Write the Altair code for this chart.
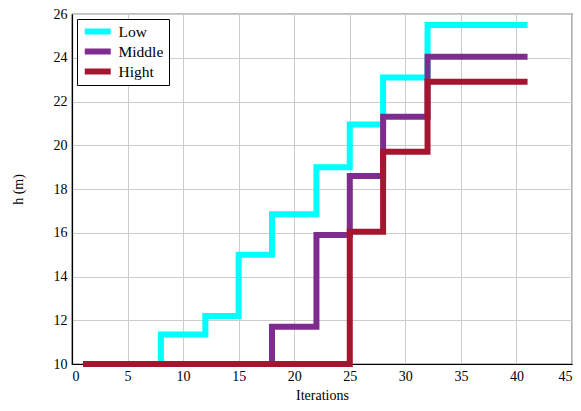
import altair as alt
import pandas as pd

low_x = [1, 8, 12, 15, 18, 22, 25, 28, 32, 41]
low_y = [10, 11.35, 12.2, 15.0, 16.85, 19.0, 20.95, 23.1, 25.5, 25.5]
mid_x = [1, 18, 22, 25, 28, 32, 41]
mid_y = [10, 11.7, 15.9, 18.6, 21.3, 24.05, 24.05]
high_x = [1, 25, 28, 32, 41]
high_y = [10, 16.05, 19.7, 22.9, 22.9]

series = ["Low", "Middle", "Hight"]
colors = ["#00FFFF", "#7E2C8E", "#A4162F"]

rows = []
for name, xs, ys in [("Low", low_x, low_y), ("Middle", mid_x, mid_y), ("Hight", high_x, high_y)]:
    for x, y in zip(xs, ys):
        rows.append({"s": name, "x": x, "y": y, "o": series.index(name)})
df = pd.DataFrame(rows)

font = "Liberation Serif"

chart = alt.Chart(df).mark_line(interpolate="step-after", strokeWidth=6, strokeCap="butt").encode(
    x=alt.X("x:Q", scale=alt.Scale(domain=[0, 45], nice=False),
            axis=alt.Axis(title="Iterations", values=list(range(0, 46, 5)), titlePadding=5)),
    y=alt.Y("y:Q", scale=alt.Scale(domain=[10, 26], nice=False, zero=False),
            axis=alt.Axis(title="h (m)", values=list(range(10, 27, 2)), titlePadding=28)),
    color=alt.Color("s:N", scale=alt.Scale(domain=series, range=colors),
                    legend=alt.Legend(title=None, orient="none", legendX=5, legendY=5,
                                      symbolType="M-3,0H3", symbolStrokeWidth=6, symbolSize=75,
                                      symbolFillColor="transparent", symbolOffset=8,
                                      strokeColor="black", fillColor="white", padding=5,
                                      labelFont=font, labelFontSize=15.5, labelColor="black",
                                      labelOffset=13, rowPadding=4, clipHeight=15,
                                      cornerRadius=0)),
    order=alt.Order("o:Q"),
    detail="s:N",
).properties(
    width=500, height=350,
    autosize=alt.AutoSizeParams(type="none"),
    padding={"left": 64, "top": 6, "right": 1, "bottom": 45},
).configure_view(
    stroke="black", strokeWidth=1.2
).configure_axis(
    grid=True, gridColor="#CCCCCC", gridWidth=1, ticks=False,
    domainColor="black", domainWidth=1.2,
    labelFont=font, labelFontSize=14, labelColor="black", labelPadding=5,
    titleFont=font, titleFontSize=14, titleFontWeight="normal", titleColor="black",
)

chart.save("out.html", embed_options={"renderer": "svg", "actions": False})
